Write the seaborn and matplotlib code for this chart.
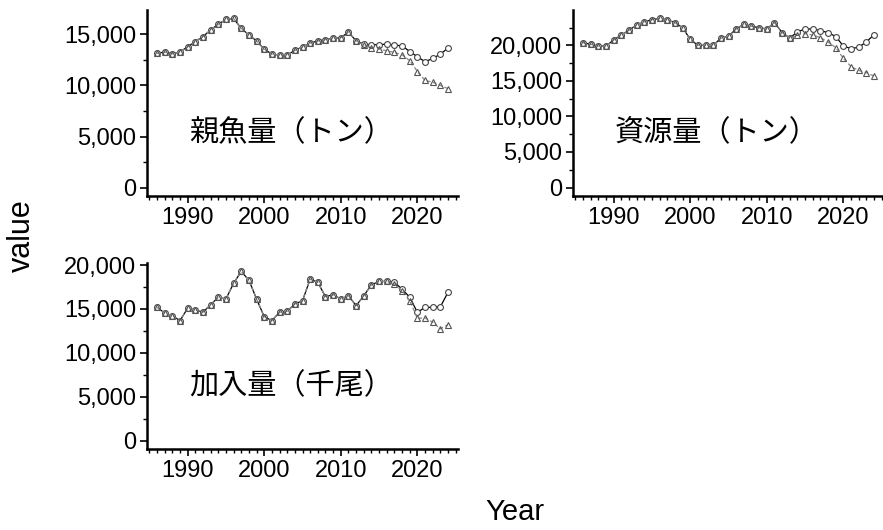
import matplotlib
matplotlib.use("Agg")
import matplotlib.pyplot as plt
import matplotlib.ticker as mticker
import seaborn as sns
import pandas as pd

years = list(range(1986, 2025))

# 親魚量（トン）
ssb_base = [13140, 13280, 13110, 13280, 13790, 14300, 14790, 15440, 15990, 16470,
            16570, 15600, 14950, 14370, 13570, 13080, 12980, 13010, 13430, 13790,
            14150, 14370, 14500, 14630, 14690, 15240, 14370, 14050, 13980, 14010,
            14050, 13950, 13890, 13330, 12820, 12330, 12650, 13080, 13660]
ssb_tail = [13950, 13720, 13570, 13400, 13240, 13010, 12430, 11370, 10490, 10330, 10010, 9690]

# 資源量（トン）
bio_base = [20380, 20140, 19900, 19900, 20750, 21450, 22110, 22860, 23300, 23600,
            23780, 23580, 23200, 22490, 20850, 20000, 20000, 20000, 20990, 21300,
            22300, 22960, 22680, 22480, 22300, 23200, 21790, 21030, 21900, 22300,
            22300, 22060, 21790, 21240, 19900, 19540, 19720, 20500, 21480]
bio_tail = [21450, 21650, 21450, 21080, 20460, 19680, 18170, 17000, 16480, 16150, 15680]

# 加入量（千尾）
rec_base = [15190, 14550, 14240, 13670, 15080, 14890, 14620, 15490, 16330, 16140,
            17920, 19280, 18300, 16140, 14130, 13670, 14620, 14740, 15570, 15940,
            18410, 18030, 16400, 16630, 16140, 16510, 15380, 16510, 17760, 18140,
            18140, 18030, 17270, 16330, 14620, 15190, 15190, 15260, 16900]
rec_tail = [17840, 17080, 15940, 13940, 13980, 13490, 12730, 13220]

panel_labels = ["親魚量（トン）", "資源量（トン）", "加入量（千尾）"]

series = {
    panel_labels[0]: (ssb_base, ssb_base[:len(years) - len(ssb_tail)] + ssb_tail),
    panel_labels[1]: (bio_base, bio_base[:len(years) - len(bio_tail)] + bio_tail),
    panel_labels[2]: (rec_base, rec_base[:len(years) - len(rec_tail)] + rec_tail),
}

rows = []
for lab, (a, b) in series.items():
    for y, va, vb in zip(years, a, b):
        rows.append((lab, "A", y, va))
        rows.append((lab, "B", y, vb))
df = pd.DataFrame(rows, columns=["variable", "run", "Year", "value"])

sns.set_theme(style="white")
plt.rcParams["font.family"] = ["Liberation Sans", "Noto Sans CJK JP"]
plt.rcParams["text.color"] = "black"

fig = plt.figure(figsize=(8.83, 5.30), dpi=100)
w, h = 311 / 883, 186 / 530
positions = [
    [147 / 883, 1 - 196 / 530, w, h],
    [573 / 883, 1 - 196 / 530, w, h],
    [147 / 883, 1 - 449 / 530, w, h],
]

for lab, pos in zip(panel_labels, positions):
    ax = fig.add_axes(pos)
    sub = df[df["variable"] == lab]
    sns.lineplot(data=sub[sub["run"] == "A"], x="Year", y="value", ax=ax,
                 color="black", lw=0.9, marker="o", ms=4.2,
                 mfc="white", mec="#444444", mew=0.8)
    sns.lineplot(data=sub[sub["run"] == "B"], x="Year", y="value", ax=ax,
                 color="#888888", lw=0.9, ls=(0, (3, 2)), marker="^", ms=4.5,
                 mfc="none", mec="#555555", mew=0.8)
    vmax = sub["value"].max()
    ax.set_ylim(-0.05 * vmax, 1.05 * vmax)
    ax.set_xlim(1984.7, 2025.3)
    ax.xaxis.set_major_locator(mticker.FixedLocator([1990, 2000, 2010, 2020]))
    ax.xaxis.set_minor_locator(mticker.MultipleLocator(1))
    ax.yaxis.set_major_locator(mticker.MultipleLocator(5000))
    ax.yaxis.set_minor_locator(mticker.MultipleLocator(2500))
    ax.yaxis.set_major_formatter(mticker.StrMethodFormatter("{x:,.0f}"))
    ax.tick_params(which="major", direction="out", length=5, width=1.2,
                   color="black", labelsize=17, labelcolor="black", pad=3,
                   bottom=True, left=True)
    ax.tick_params(which="minor", direction="out", length=3, width=1.0,
                   color="black", bottom=True, left=True)
    for s in ["top", "right"]:
        ax.spines[s].set_visible(False)
    for s in ["left", "bottom"]:
        ax.spines[s].set_color("black")
        ax.spines[s].set_linewidth(1.8)
    ax.set_xlabel("")
    ax.set_ylabel("")
    ax.set_facecolor("white")
    ax.text(0.135, 0.34, lab, transform=ax.transAxes, fontsize=21,
            ha="left", va="center", color="black",
            family=["Noto Sans CJK JP", "DejaVu Sans"])

fig.text(22 / 883, 1 - 236 / 530, "value", rotation=90, fontsize=22,
         ha="center", va="center", color="black")
fig.text(515 / 883, 1 - 512 / 530, "Year", fontsize=21, ha="center",
         va="center", color="black")

fig.savefig("out.png", dpi=100, facecolor="white")
